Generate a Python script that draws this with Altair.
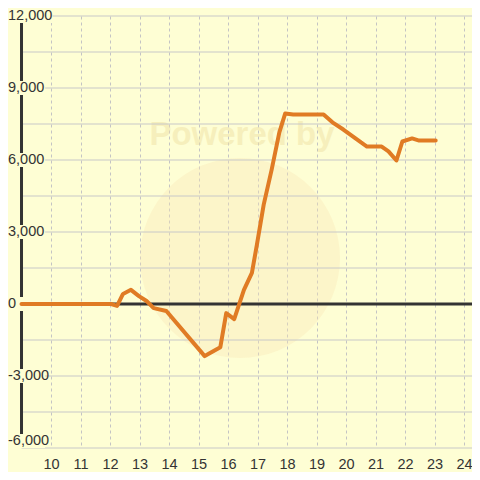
import altair as alt
import pandas as pd

# ---- data ----
hours = [9.0, 12.04, 12.24, 12.44, 12.71, 12.98, 13.24, 13.48, 13.91, 15.21, 15.74,
         15.94, 16.21, 16.54, 16.81, 16.98, 17.21, 17.48, 17.74, 17.94, 18.21, 19.24,
         19.54, 19.91, 20.51, 20.71, 21.21, 21.44, 21.71, 21.91, 22.24, 22.48, 23.04]
values = [0, 0, -80, 420, 590, 330, 125, -170, -290, -2170, -1800,
          -380, -630, 590, 1300, 2470, 4140, 5600, 7150, 7940, 7900, 7900,
          7570, 7270, 6730, 6560, 6560, 6360, 5980, 6770, 6900, 6810, 6810]

x_ticks = list(range(10, 25))
y_label_values = [12000, 9000, 6000, 3000, 0, -3000, -6000]
y_label_texts = ["12,000", "9,000", "6,000", "3,000", "0", "-3,000", "-6,000"]
y_grid_values = [12000, 10500, 9000, 7500, 6000, 4500, 3000, 1500, 0,
                 -1500, -3000, -4500, -6000]
watermark_text = ["Powered by"]

X_MIN, X_MAX = 8.542, 24.271
Y_MIN, Y_MAX = -6000, 12000
W, H = 464, 432
BG = "#FEFED4"
FONT = "Liberation Sans"
FS = 14.5

line_df = pd.DataFrame({"h": hours, "v": values})
grid_df = pd.DataFrame({"v": y_grid_values})
lab_df = pd.DataFrame({"v": y_label_values, "t": y_label_texts})

xscale = alt.Scale(domain=[X_MIN, X_MAX], nice=False, zero=False)
yscale = alt.Scale(domain=[Y_MIN, Y_MAX], nice=False, zero=False)
xaxis = alt.Axis(values=x_ticks, title=None, domain=False, ticks=False,
                 grid=True, gridDash=[3, 3], gridColor="#C4C4C4", gridWidth=1,
                 labelFontSize=FS, labelColor="#333333", labelFont=FONT,
                 labelPadding=9, labelFlush=False, labelOverlap=False, format="d")


def X(field):
    return alt.X(field, type="quantitative", scale=xscale, axis=xaxis)


def Y(field):
    return alt.Y(field, type="quantitative", scale=yscale, axis=None)


# faint watermark decoration
wm_circle = alt.Chart(pd.DataFrame({"k": [1]})).mark_circle(
    size=40000, color="#F8E6B4", opacity=0.35
).encode(x=alt.value(232), y=alt.value(242))

wm_text = alt.Chart(pd.DataFrame({"t": watermark_text})).mark_text(
    fontSize=33, font=FONT, fontWeight="bold", color="#EEDFA0", opacity=0.45,
    align="center", baseline="middle"
).encode(x=alt.value(234), y=alt.value(119), text="t:N")

hgrid = alt.Chart(grid_df).transform_calculate(
    x0="9", x1=str(X_MAX)
).mark_rule(color="#C8C8C8", strokeWidth=1).encode(
    x=X("x0:Q"), x2="x1:Q", y=Y("v:Q")
)

zero_line = alt.Chart(pd.DataFrame({"v": [0]})).transform_calculate(
    x0="9", x1=str(X_MAX)
).mark_rule(color="#333333", strokeWidth=3).encode(
    x=X("x0:Q"), x2="x1:Q", y=Y("v:Q")
)

axis_line = alt.Chart(pd.DataFrame({"h": [9.0]})).transform_calculate(
    y0=str(Y_MIN), y1=str(Y_MAX)
).mark_rule(color="#333333", strokeWidth=3).encode(
    x=X("h:Q"), y=Y("y0:Q"), y2="y1:Q"
)

label_bg = alt.Chart(lab_df).transform_calculate(
    c="datum.v == -6000 ? datum.v + 290 : datum.v",
    lo="datum.c - 290", hi="datum.c + 290",
    x0=str(X_MIN), x1="datum.v == 12000 ? 10.05 : 9.8"
).mark_rect(color=BG).encode(
    x=X("x0:Q"), x2="x1:Q", y=Y("lo:Q"), y2="hi:Q"
)

labels_main = alt.Chart(lab_df).transform_filter("datum.v > -6000").mark_text(
    align="left", baseline="middle", fontSize=FS, font=FONT, color="#333333"
).encode(x=alt.value(0), y=Y("v:Q"), text="t:N")

labels_bottom = alt.Chart(lab_df).transform_filter("datum.v == -6000").mark_text(
    align="left", baseline="middle", fontSize=FS, font=FONT, color="#333333", dy=-7
).encode(x=alt.value(0), y=Y("v:Q"), text="t:N")

line = alt.Chart(line_df).mark_line(
    color="#E07B24", strokeWidth=4, strokeJoin="round", strokeCap="round"
).encode(x=X("h:Q"), y=Y("v:Q"))

chart = alt.layer(
    wm_circle, wm_text, hgrid, zero_line, axis_line, label_bg,
    labels_main, labels_bottom, line
).properties(
    width=W, height=H,
    autosize=alt.AutoSizeParams(type="none"),
    padding={"left": 0, "top": 8, "right": 0, "bottom": 24},
    background=BG,
).configure_view(stroke=None)

chart.save("out.html", embed_options={"renderer": "svg", "actions": False})
